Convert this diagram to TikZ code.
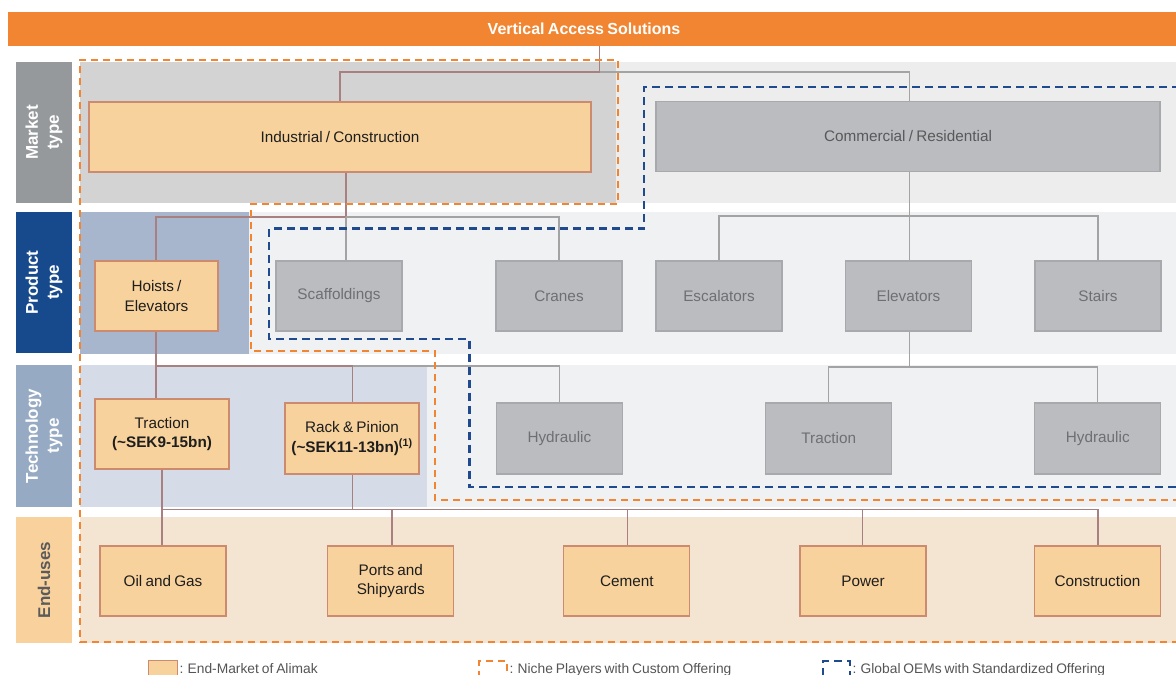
\documentclass[tikz,border=0pt]{standalone}
\usepackage{fontspec}
\setmainfont{Liberation Sans}[WordSpace=0.75]

\definecolor{vasorange}{HTML}{F28531}
\definecolor{oemblue}{HTML}{1F4B8E}
\definecolor{marketgrey}{HTML}{95999C}
\definecolor{productblue}{HTML}{174A8C}
\definecolor{techblue}{HTML}{97AAC3}
\definecolor{enduselab}{HTML}{F8D19C}
\definecolor{bandlight}{HTML}{EDEDED}
\definecolor{banddark}{HTML}{D3D3D3}
\definecolor{bandpale}{HTML}{F0F1F3}
\definecolor{prodleft}{HTML}{A7B6CD}
\definecolor{techleft}{HTML}{D5DBE7}
\definecolor{enduseband}{HTML}{F3E5D2}
\definecolor{boxfill}{HTML}{F8D29C}
\definecolor{boxline}{HTML}{CC8A6E}
\definecolor{greyfill}{HTML}{BBBCBF}
\definecolor{greyline}{HTML}{A8A9AC}
\definecolor{greytext}{HTML}{6E6F72}
\definecolor{darktext}{HTML}{1E1E1E}
\definecolor{mauve}{HTML}{A88080}
\definecolor{greyconn}{HTML}{A3A3A3}
\definecolor{legendtext}{HTML}{555555}
\definecolor{usetext}{HTML}{5B5B5B}

\newcommand\vasbox{\fontsize{15.3}{19.5}\selectfont}
\newcommand\vaslab{\fontsize{17}{21}\selectfont\bfseries}
\newcommand\vaslegend{\fontsize{13.8}{16}\selectfont}

\tikzset{
  box/.style={draw, line width=1.1pt, minimum height=70pt, inner sep=0pt,
              align=center, font=\vasbox},
  obox/.style={box, fill=boxfill, draw=boxline, text=darktext},
  gbox/.style={box, fill=greyfill, draw=greyline, text=greytext},
  rowlab/.style={rotate=90, font=\vaslab, align=center, text=white,
                 minimum height=56pt, inner sep=0pt},
  oconn/.style={draw=mauve, line width=1.1pt},
  gconn/.style={draw=greyconn, line width=1.1pt},
  niche/.style={draw=vasorange, line width=2.2pt, dash pattern=on 7pt off 5pt},
  oem/.style={draw=oemblue, line width=2.4pt, dash pattern=on 8pt off 5pt},
}

\begin{document}
\begin{tikzpicture}[x=1pt,y=-1pt]
\clip (0,0) rectangle (1176,675);
\fill[white] (0,0) rectangle (1176,675);

% ---------- header ----------
\node[fill=vasorange, minimum width=1172pt, minimum height=33.5pt,
      anchor=north west, inner sep=0pt] (title) at (8,12) {};
\node[font=\fontsize{16}{18}\selectfont\bfseries, text=white] (titletext)
      at (584,28.5) {Vertical Access Solutions};

% ---------- row bands ----------
\fill[bandlight]   (80,62)  rectangle (1176,203);
\fill[banddark]    (80,62)  rectangle (616,203);
\fill[bandpale]    (80,212) rectangle (1176,354);
\fill[prodleft]    (80,212) rectangle (249,354);
\fill[bandpale]    (80,365) rectangle (1176,507);
\fill[techleft]    (80,365) rectangle (427,507);
\fill[enduseband]  (80,517) rectangle (1176,643);

% ---------- row labels ----------
\node[rowlab, fill=marketgrey,  minimum width=141pt] (lmarket)  at (44,132.5) {Market\\type};
\node[rowlab, fill=productblue, minimum width=141pt] (lproduct) at (44,282.5) {Product\\type};
\node[rowlab, fill=techblue,    minimum width=142pt] (ltech)    at (44,436)   {Technology\\type};
\node[rowlab, fill=enduselab, text=usetext, minimum width=126pt] (luse) at (44,580) {End-uses};

% ---------- market type ----------
\node[obox, minimum width=502pt] (ind) at (340,137) {Industrial / Construction};
\node[gbox, minimum width=504pt, text=greytext!80!black] (com) at (908,136.5) {Commercial / Residential};

% ---------- product type ----------
\node[obox, minimum width=123pt] (hoist)  at (156.5,296) {Hoists /\\Elevators};
\node[gbox, minimum width=126pt] (scaff)  at (339,296)   {Scaffoldings};
\node[gbox, minimum width=126pt] (crane)  at (559,296)   {Cranes};
\node[gbox, minimum width=126pt] (escal)  at (719,296)   {Escalators};
\node[gbox, minimum width=126pt] (elev)   at (908.5,296) {Elevators};
\node[gbox, minimum width=126pt] (stair)  at (1098,296)  {Stairs};

% ---------- technology type ----------
\node[obox, minimum width=134pt] (tract)  at (162,434)     {Traction\\\textbf{(\textasciitilde SEK9-15bn)}};
\node[obox, minimum width=134pt, minimum height=71pt] (rack) at (352,438.5)
      {Rack \& Pinion\\\textbf{(\textasciitilde SEK11-13bn)\textsuperscript{(1)}}};
\node[gbox, minimum width=126pt, minimum height=71pt] (hydra)  at (559.4,438.5) {Hydraulic};
\node[gbox, minimum width=126pt, minimum height=71pt] (tractb) at (828.8,438.5) {Traction};
\node[gbox, minimum width=126pt, minimum height=71pt] (hydrb)  at (1097.8,438.5) {Hydraulic};

% ---------- end-uses ----------
\node[obox, minimum width=126pt] (oil)    at (163,581)    {Oil and Gas};
\node[obox, minimum width=126pt] (ports)  at (390.8,581)  {Ports and\\Shipyards};
\node[obox, minimum width=126pt] (cement) at (626.8,581)  {Cement};
\node[obox, minimum width=126pt] (power)  at (863,581)    {Power};
\node[obox, minimum width=126pt] (constr) at (1097.5,581) {Construction};

% ---------- junction points ----------
\coordinate (jtop)  at (599.5,72);
\coordinate (jprod) at (346,217);
\coordinate (jcom)  at (909.7,216);
\coordinate (jtech) at (156,366);
\coordinate (jrack) at (352.8,366);
\coordinate (jelev) at (909.7,367);
\coordinate (juse)  at (162,509.3);
\coordinate (jports) at (392,509.3);
\coordinate (jcem)  at (627.9,509.3);
\coordinate (jpow)  at (862.9,509.3);
\coordinate (jcon)  at (1098,509.3);

% ---------- connectors ----------
% market level
\draw[oconn] (title.south -| jtop) -- (jtop) -- (jtop -| ind.north) -- (ind.north);
\draw[gconn] (jtop) -- (jtop -| jcom) -- (com.north -| jcom);
% product level
\draw[oconn] (ind.south -| jprod) -- (jprod) -- (jprod -| jtech) -- (hoist.north -| jtech);
\draw[gconn] (jprod) -- (scaff.north -| jprod);
\draw[gconn] (jprod) -- (jprod -| crane.north) -- (crane.north);
\draw[gconn] (com.south -| jcom) -- (elev.north -| jcom);
\draw[gconn] (escal.north) -- (escal.north |- jcom) -- (stair.north |- jcom) -- (stair.north);
% technology level
\draw[oconn] (hoist.south -| jtech) -- (tract.north -| jtech);
\draw[oconn] (jtech) -- (jrack) -- (rack.north -| jrack);
\draw[gconn] (jrack) -- (jrack -| hydra.north) -- (hydra.north);
\draw[gconn] (elev.south -| jelev) -- (jelev);
\draw[gconn] (tractb.north) -- (tractb.north |- jelev) -- (hydrb.north |- jelev) -- (hydrb.north);
% end-use level
\draw[oconn] (tract.south -| juse) -- (oil.north -| juse);
\draw[oconn] (juse) -- (jcon);
\draw[oconn] (rack.south -| jrack) -- (jrack |- juse);
\draw[oconn] (jports) -- (ports.north -| jports);
\draw[oconn] (jcem)   -- (cement.north -| jcem);
\draw[oconn] (jpow)   -- (power.north -| jpow);
\draw[oconn] (jcon)   -- (constr.north -| jcon);

% ---------- segment outlines ----------
\draw[niche] (1180,500) -- (435,500) -- (435,351) -- (251,351) -- (251,204)
             -- (618,204) -- (618,60) -- (80,60) -- (80,642) -- (1180,642);
\draw[oem] (1180,87) -- (644,87) -- (644,228.5) -- (269,228.5) -- (269,339)
           -- (469.5,339) -- (469.5,487) -- (1180,487);

% ---------- legend ----------
\node[draw=boxline, fill=boxfill, line width=1.1pt, minimum width=29pt,
      minimum height=30pt, anchor=north west, inner sep=0pt] (keymarket) at (147.7,660) {};
\node[anchor=base west, font=\vaslegend, text=legendtext, inner sep=0pt] (keymarkettext)
      at (179.5,673) {: End-Market of Alimak};
\node[niche, minimum width=28pt, minimum height=30pt, anchor=north west, inner sep=0pt]
      (keyniche) at (478,660) {};
\node[anchor=base west, font=\vaslegend, text=legendtext, inner sep=0pt] (keynichetext)
      at (509.5,673) {: Niche Players with Custom Offering};
\node[oem, minimum width=27pt, minimum height=30pt, anchor=north west, inner sep=0pt]
      (keyoem) at (822,660) {};
\node[anchor=base west, font=\vaslegend, text=legendtext, inner sep=0pt] (keyoemtext)
      at (852.5,673) {: Global OEMs with Standardized Offering};
\end{tikzpicture}
\end{document}
